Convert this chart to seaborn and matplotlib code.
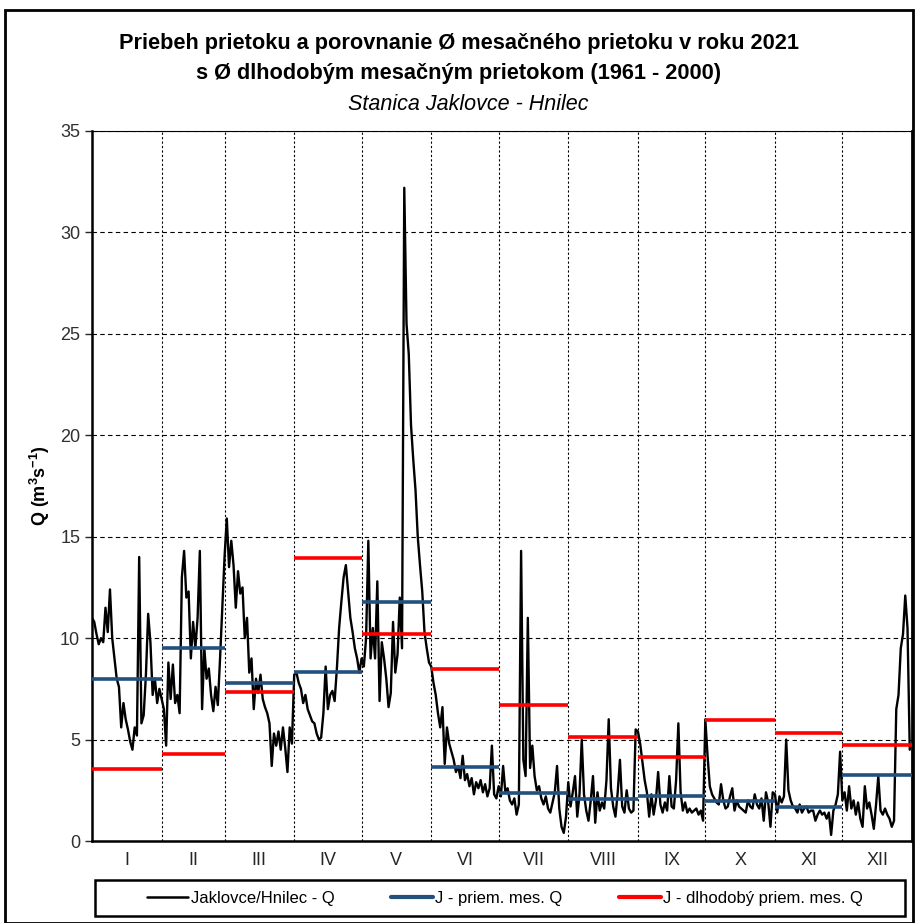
import pandas as pd
import seaborn as sns
import matplotlib.pyplot as plt
from matplotlib.patches import Rectangle
from matplotlib.lines import Line2D

# daily discharge Q [m3/s], month by month
q_jan = [11.0, 10.8, 10.2, 9.7, 10.0, 9.8, 11.5, 10.3, 12.4, 10.0, 9.0, 8.0, 7.6, 5.6, 6.8, 6.0,
         5.5, 4.9, 4.5, 5.6, 5.2, 14.0, 5.8, 6.2, 8.2, 11.2, 9.8, 7.2, 8.0, 6.8, 7.5]
q_feb = [7.0, 6.5, 4.7, 8.8, 7.0, 8.7, 6.8, 7.2, 6.3, 13.0, 14.3, 12.0, 12.3, 9.0, 10.8, 9.5,
         11.0, 14.3, 6.5, 9.5, 8.0, 8.5, 7.2, 6.4, 7.6, 6.7, 9.0, 11.5]
q_mar = [14.0, 15.9, 13.5, 14.8, 13.6, 11.5, 13.3, 12.2, 12.5, 10.0, 11.0, 8.3, 9.0, 6.5, 8.0, 7.3,
         8.2, 7.0, 6.6, 6.3, 5.8, 3.7, 5.3, 4.7, 5.4, 4.5, 5.6, 4.6, 3.4, 5.6, 4.8]
q_apr = [8.2, 8.3, 7.8, 7.5, 6.8, 7.2, 6.5, 6.2, 5.9, 5.8, 5.3, 5.0, 5.1, 6.3, 8.6, 6.5,
         7.2, 7.4, 6.9, 8.5, 10.5, 11.8, 13.0, 13.6, 12.3, 11.0, 10.3, 9.5, 9.0, 8.3]
q_may = [9.0, 8.6, 10.0, 14.8, 9.0, 10.5, 9.0, 12.8, 6.9, 9.8, 9.0, 8.0, 6.6, 7.3, 10.8, 8.3,
         9.2, 12.0, 9.5, 32.2, 25.5, 24.0, 20.5, 18.8, 17.3, 15.0, 13.6, 12.3, 10.3, 9.5, 8.8]
q_jun = [8.6, 7.8, 7.2, 6.3, 5.6, 6.6, 3.8, 5.6, 4.8, 4.4, 4.0, 3.4, 3.7, 3.1, 4.2, 3.0,
         3.3, 2.7, 3.1, 2.3, 2.9, 2.6, 3.0, 2.4, 2.8, 2.2, 2.6, 4.7, 2.3, 2.1]
q_jul = [2.7, 2.2, 3.7, 2.4, 2.6, 2.0, 1.8, 2.1, 1.3, 1.8, 14.3, 4.0, 3.2, 11.0, 3.6, 4.7,
         3.2, 2.5, 2.7, 2.1, 1.8, 2.2, 1.6, 1.4, 1.9, 2.4, 3.7, 1.6, 0.7, 0.4, 1.2]
q_aug = [2.9, 1.7, 2.4, 3.2, 1.2, 2.3, 5.0, 2.3, 1.5, 1.0, 2.0, 3.2, 0.9, 2.4, 1.5, 1.9,
         1.6, 3.0, 6.0, 2.6, 1.7, 1.2, 2.4, 4.0, 1.7, 1.4, 2.5, 1.6, 1.4, 1.5, 5.5]
q_sep = [5.4, 4.8, 3.9, 3.0, 2.4, 1.2, 2.3, 1.3, 2.0, 3.4, 1.8, 1.4, 1.9, 1.5, 3.2, 1.7,
         1.6, 3.0, 5.8, 2.4, 1.5, 1.9, 1.4, 1.6, 1.4, 1.5, 1.6, 1.3, 1.5, 1.0]
q_oct = [6.0, 4.2, 2.7, 2.3, 2.1, 1.9, 1.8, 2.8, 2.0, 1.6, 1.7, 2.2, 2.6, 1.5, 2.0, 1.7,
         1.6, 1.5, 1.4, 2.0, 1.7, 1.6, 2.3, 1.8, 1.6, 2.1, 1.0, 2.4, 1.9, 0.7, 2.4]
q_nov = [2.3, 1.4, 2.2, 1.9, 2.2, 5.0, 2.5, 2.0, 1.7, 1.6, 1.4, 1.8, 1.4, 1.6, 1.7, 1.4,
         1.5, 1.5, 1.0, 1.3, 1.5, 1.3, 1.4, 1.1, 1.4, 0.3, 1.5, 1.8, 2.3, 4.4]
q_dec = [2.0, 2.4, 1.5, 2.7, 1.6, 2.0, 1.3, 1.9, 1.1, 0.7, 2.7, 1.6, 1.9, 1.3, 0.6, 1.8,
         3.2, 1.5, 1.3, 1.6, 1.3, 1.1, 0.7, 1.0, 6.5, 7.2, 9.5, 10.2, 12.1, 10.5, 4.5]

months = ['I', 'II', 'III', 'IV', 'V', 'VI', 'VII', 'VIII', 'IX', 'X', 'XI', 'XII']
mean_2021 = [8.0, 9.5, 7.8, 8.35, 11.8, 3.65, 2.35, 2.05, 2.2, 1.95, 1.7, 3.25]
mean_longterm = [3.55, 4.3, 7.35, 13.95, 10.2, 8.5, 6.7, 5.15, 4.15, 5.95, 5.3, 4.72]

daily = [q_jan, q_feb, q_mar, q_apr, q_may, q_jun, q_jul, q_aug, q_sep, q_oct, q_nov, q_dec]
q = [v for m in daily for v in m]
df = pd.DataFrame({'day': range(len(q)), 'Q': q})

starts = [0]
for m in daily:
    starts.append(starts[-1] + len(m))
centers = [(a + b) / 2 for a, b in zip(starts[:-1], starts[1:])]

sns.set_style('white')
plt.rcParams['font.family'] = ['Liberation Sans', 'DejaVu Sans']
plt.rcParams['text.color'] = 'black'
plt.rcParams['axes.labelcolor'] = 'black'
plt.rcParams['mathtext.fontset'] = 'custom'
plt.rcParams['mathtext.rm'] = 'Liberation Sans:bold'
plt.rcParams['mathtext.bf'] = 'Liberation Sans:bold'

fig = plt.figure(figsize=(9.15, 9.23), dpi=100)
ax = fig.add_axes([92 / 915, 1 - 841 / 923, 820 / 915, 710 / 923])

sns.lineplot(df, x='day', y='Q', color='black', linewidth=1.7, ax=ax)
ax.hlines(mean_2021, starts[:-1], starts[1:], color='#24507f', linewidth=2.6, zorder=3)
ax.hlines(mean_longterm, starts[:-1], starts[1:], color='#ff0000', linewidth=2.6, zorder=3)

ax.set_xlim(0, starts[-1])
ax.set_ylim(0, 35)
ax.set_yticks(range(0, 36, 5))
ax.tick_params(axis='y', labelsize=13, labelcolor='#303030', length=5, width=1, direction='out', left=True)
ax.yaxis.grid(True, linestyle=(0, (4, 3)), color='black', linewidth=0.8)
for s in starts[1:-1]:
    ax.axvline(s, color='black', linestyle=(0, (2, 2)), linewidth=0.8, zorder=0)
ax.set_xticks(centers)
ax.set_xticklabels(months, fontsize=13)
ax.tick_params(axis='x', length=0, pad=8)
for side in ['left', 'bottom', 'right', 'top']:
    ax.spines[side].set_color('black')
ax.spines['left'].set_linewidth(1.8)
ax.spines['bottom'].set_linewidth(1.8)
ax.spines['top'].set_linewidth(0.8)
ax.spines['right'].set_linewidth(2.0)

ax.set_xlabel(None)
ax.set_ylabel('Q (m$^{3}$s$^{-1}$)', fontsize=13, fontweight='bold', labelpad=6)

fig.text(459 / 915, 1 - 44 / 923, 'Priebeh prietoku a porovnanie Ø mesačného prietoku v roku 2021',
         ha='center', va='center', fontsize=15.7, fontweight='bold')
fig.text(459 / 915, 1 - 74 / 923, 's Ø dlhodobým mesačným prietokom (1961 - 2000)',
         ha='center', va='center', fontsize=15.7, fontweight='bold')
fig.text(468 / 915, 1 - 104 / 923, 'Stanica Jaklovce - Hnilec',
         ha='center', va='center', fontsize=15.5, style='italic')

handles = [Line2D([], [], color='black', linewidth=1.8),
           Line2D([], [], color='#24507f', linewidth=3),
           Line2D([], [], color='#ff0000', linewidth=3)]
labels = ['Jaklovce/Hnilec - Q', 'J - priem. mes. Q', 'J - dlhodobý priem. mes. Q']
leg = fig.legend(handles, labels, loc='center', ncol=3, fontsize=12,
                 bbox_to_anchor=(505 / 915, 1 - 898 / 923), frameon=False,
                 handlelength=2.5, handletextpad=0.15, columnspacing=3.4)
fig.patches.append(Rectangle((95 / 915, 1 - 916 / 923), 810 / 915, 36 / 923,
                             transform=fig.transFigure, fill=False, edgecolor='black', linewidth=1.8))

fig.patches.append(Rectangle((5 / 915, 0), 908 / 915, 1 - 10 / 923, transform=fig.transFigure,
                             fill=False, edgecolor='black', linewidth=2))

fig.savefig('out.png', dpi=100)
